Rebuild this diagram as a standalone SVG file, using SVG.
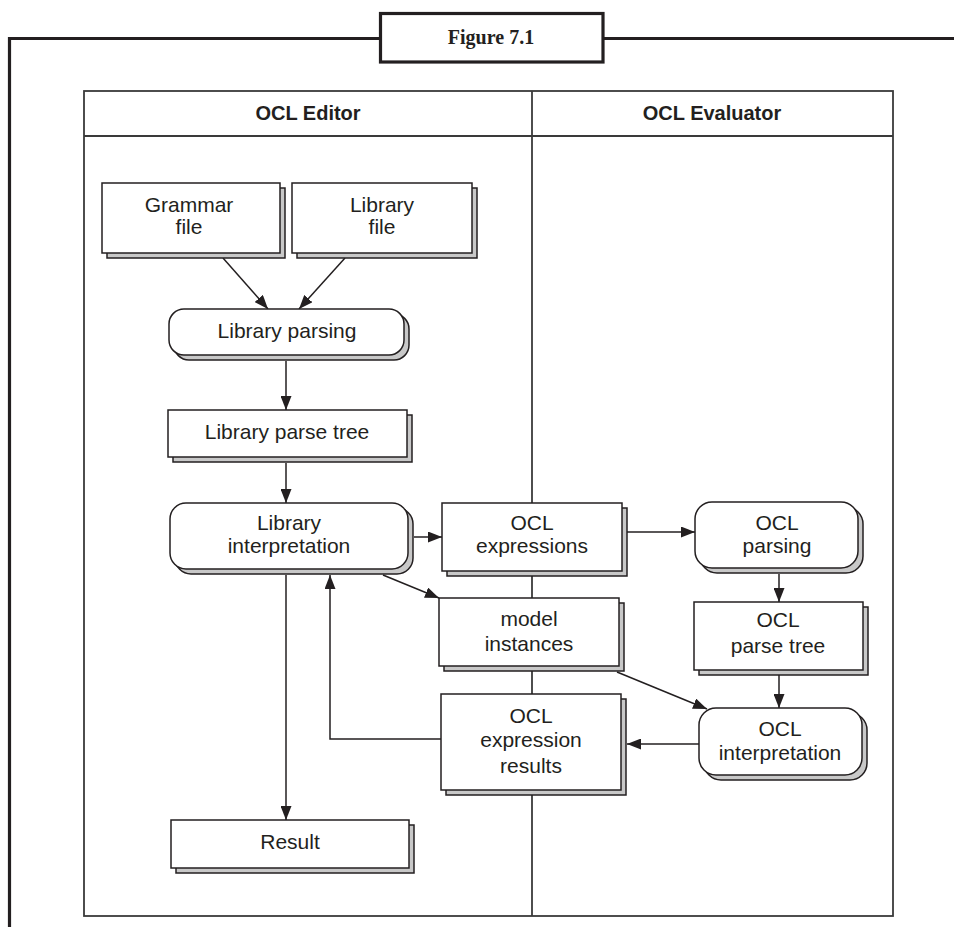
<svg xmlns="http://www.w3.org/2000/svg" width="954" height="927" viewBox="0 0 954 927">
<defs>
<style>
.frame{fill:none;stroke:#231f20;stroke-width:3.2}
.lane{fill:none;stroke:#3a3a3a;stroke-width:1.8}
.sh{fill:#c8c8c8;stroke:#231f20;stroke-width:1.5}
.bx{fill:#ffffff;stroke:#231f20;stroke-width:1.5}
.t{font-family:"Liberation Sans",Arial,sans-serif;font-size:21px;fill:#231f20;text-anchor:middle}
.h{font-family:"Liberation Sans",Arial,sans-serif;font-size:20px;font-weight:bold;fill:#231f20;text-anchor:middle}
.fig{font-family:"Liberation Serif","Times New Roman",serif;font-size:20px;font-weight:bold;fill:#231f20;text-anchor:middle}
.c{fill:none;stroke:#231f20;stroke-width:1.5}
</style>
<marker id="ah" viewBox="0 0 14 11" refX="14" refY="5.5" markerWidth="14" markerHeight="11" markerUnits="userSpaceOnUse" orient="auto">
<path d="M0,0 L14,5.5 L0,11 Z" fill="#231f20"/>
</marker>
</defs>
<rect width="954" height="927" fill="#ffffff"/>

<g id="frame">
<polyline class="frame" points="9.5,927 9.5,38.5 380,38.5"/>
<line class="frame" x1="603" y1="38.5" x2="954" y2="38.5"/>
<rect class="frame" x="380.5" y="13.5" width="222.5" height="48.5" fill="#ffffff"/>
<text class="fig" x="491" y="44">Figure 7.1</text>
</g>

<g id="swimlanes">
<rect class="lane" x="84" y="91" width="809" height="825"/>
<line class="lane" x1="84" y1="136" x2="893" y2="136" stroke-width="2.2"/>
<line class="lane" x1="532" y1="91" x2="532" y2="916" stroke-width="2.2"/>
<text class="h" x="308" y="120">OCL Editor</text>
<text class="h" x="712" y="120">OCL Evaluator</text>
</g>

<g id="connectors">
<line class="c" x1="223" y1="258" x2="268" y2="309" marker-end="url(#ah)"/>
<line class="c" x1="345" y1="258" x2="299" y2="309" marker-end="url(#ah)"/>
<line class="c" x1="286" y1="361" x2="286" y2="410" marker-end="url(#ah)"/>
<line class="c" x1="286" y1="463" x2="286" y2="503" marker-end="url(#ah)"/>
<line class="c" x1="414" y1="537" x2="442" y2="537" marker-end="url(#ah)"/>
<line class="c" x1="383" y1="575" x2="439" y2="598" marker-end="url(#ah)"/>
<line class="c" x1="286" y1="575" x2="286" y2="820" marker-end="url(#ah)"/>
<polyline class="c" points="441,739 330,739 330,575" marker-end="url(#ah)"/>
<line class="c" x1="627" y1="532" x2="695" y2="532" marker-end="url(#ah)"/>
<line class="c" x1="779" y1="574" x2="779" y2="602" marker-end="url(#ah)"/>
<line class="c" x1="779" y1="675" x2="779" y2="708" marker-end="url(#ah)"/>
<line class="c" x1="617" y1="672" x2="707" y2="709" marker-end="url(#ah)"/>
<line class="c" x1="699" y1="744" x2="627" y2="744" marker-end="url(#ah)"/>
</g>

<g id="grammar-file">
<rect class="sh" x="107" y="188" width="178" height="70"/>
<rect class="bx" x="102" y="183" width="178" height="70"/>
<text class="t" x="189" y="212">Grammar</text>
<text class="t" x="189" y="234">file</text>
</g>

<g id="library-file">
<rect class="sh" x="297" y="188" width="180" height="70"/>
<rect class="bx" x="292" y="183" width="180" height="70"/>
<text class="t" x="382" y="212">Library</text>
<text class="t" x="382" y="234">file</text>
</g>

<g id="library-parsing">
<rect class="sh" x="174" y="314" width="235" height="46" rx="15"/>
<rect class="bx" x="169" y="309" width="235" height="46" rx="15"/>
<text class="t" x="287" y="338">Library parsing</text>
</g>

<g id="library-parse-tree">
<rect class="sh" x="173" y="415" width="239" height="47"/>
<rect class="bx" x="168" y="410" width="239" height="47"/>
<text class="t" x="287" y="439">Library parse tree</text>
</g>

<g id="library-interpretation">
<rect class="sh" x="175" y="508" width="238" height="66" rx="16"/>
<rect class="bx" x="170" y="503" width="238" height="66" rx="16"/>
<text class="t" x="289" y="530">Library</text>
<text class="t" x="289" y="553">interpretation</text>
</g>

<g id="ocl-expressions">
<rect class="sh" x="447" y="508" width="180" height="68"/>
<rect class="bx" x="442" y="503" width="180" height="68"/>
<text class="t" x="532" y="530">OCL</text>
<text class="t" x="532" y="553">expressions</text>
</g>

<g id="model-instances">
<rect class="sh" x="444" y="603" width="180" height="68"/>
<rect class="bx" x="439" y="598" width="180" height="68"/>
<text class="t" x="529" y="626">model</text>
<text class="t" x="529" y="651">instances</text>
</g>

<g id="ocl-expression-results">
<rect class="sh" x="446" y="699" width="180" height="96"/>
<rect class="bx" x="441" y="694" width="180" height="96"/>
<text class="t" x="531" y="723">OCL</text>
<text class="t" x="531" y="747">expression</text>
<text class="t" x="531" y="773">results</text>
</g>

<g id="result">
<rect class="sh" x="176" y="825" width="238" height="48"/>
<rect class="bx" x="171" y="820" width="238" height="48"/>
<text class="t" x="290" y="849">Result</text>
</g>

<g id="ocl-parsing">
<rect class="sh" x="700" y="507" width="163" height="66" rx="17"/>
<rect class="bx" x="695" y="502" width="163" height="66" rx="17"/>
<text class="t" x="777" y="530">OCL</text>
<text class="t" x="777" y="553">parsing</text>
</g>

<g id="ocl-parse-tree">
<rect class="sh" x="699" y="607" width="169" height="68"/>
<rect class="bx" x="694" y="602" width="169" height="68"/>
<text class="t" x="778" y="627">OCL</text>
<text class="t" x="778" y="653">parse tree</text>
</g>

<g id="ocl-interpretation">
<rect class="sh" x="704" y="713" width="163" height="67" rx="17"/>
<rect class="bx" x="699" y="708" width="163" height="67" rx="17"/>
<text class="t" x="780" y="736">OCL</text>
<text class="t" x="780" y="760">interpretation</text>
</g>
</svg>
